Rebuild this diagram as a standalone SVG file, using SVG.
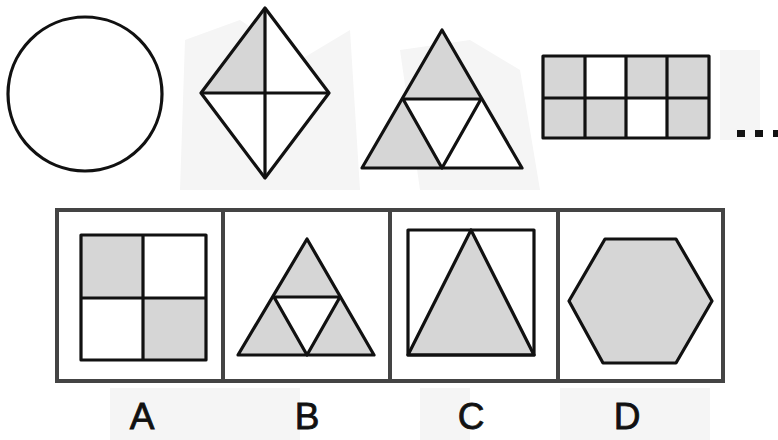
<svg xmlns="http://www.w3.org/2000/svg" width="778" height="440" viewBox="0 0 778 440">
<style>
.s{stroke:#111;stroke-width:3.2;stroke-linejoin:round;fill:none}
.g{fill:#d6d6d6}
.w{fill:#fff}
.box{stroke:#444;stroke-width:4;fill:none}
.lbl{font-family:"Liberation Sans",Arial,sans-serif;font-size:37px;fill:#111;stroke:#111;stroke-width:0.8;text-anchor:middle}
</style>
<rect width="778" height="440" fill="#fff"/>
<g id="watermark" fill="#f5f5f5">
<polygon points="185,40 240,20 300,60 350,30 360,190 180,190"/>
<polygon points="400,50 470,40 520,70 540,190 420,190"/>
<rect x="720" y="50" width="40" height="90"/>
<rect x="110" y="388" width="190" height="52"/>
<rect x="420" y="388" width="50" height="52"/>
<rect x="560" y="388" width="150" height="52"/>
</g>
<g id="circle"><circle cx="85" cy="94" r="77" class="s" style="fill:#fff"/></g>
<g id="diamond">
<polygon points="265,8 329,93 265,178 201,93" class="w"/>
<polygon points="265,8 201,93 265,93" class="g"/>
<polygon points="265,8 329,93 265,178 201,93" class="s"/>
<line x1="201" y1="93" x2="329" y2="93" class="s"/>
<line x1="265" y1="8" x2="265" y2="178" class="s"/>
</g>
<g id="triangle">
<polygon points="442,30 522,168 362,168" class="w"/>
<polygon points="442,30 403,99 481,99" class="g"/>
<polygon points="403,99 364,168 442,168" class="g"/>
<polygon points="442,30 522,168 362,168" class="s"/>
<polyline points="403,99 481,99 442,168 403,99" class="s"/>
</g>
<g id="grid">
<rect x="543" y="56" width="166" height="82" class="g"/>
<rect x="585" y="56" width="41" height="42" class="w"/>
<rect x="626" y="98" width="41" height="40" class="w"/>
<rect x="543" y="56" width="166" height="82" class="s"/>
<line x1="543" y1="98" x2="709" y2="98" class="s"/>
<line x1="585" y1="56" x2="585" y2="138" class="s"/>
<line x1="626" y1="56" x2="626" y2="138" class="s"/>
<line x1="667" y1="56" x2="667" y2="138" class="s"/>
</g>
<g id="ellipsis" fill="#111">
<rect x="737" y="130" width="8" height="7"/>
<rect x="755" y="130" width="8" height="7"/>
<rect x="773" y="130" width="8" height="7"/>
</g>
<g id="options-frame">
<rect x="57" y="210" width="666" height="171" class="box"/>
<line x1="223" y1="210" x2="223" y2="381" class="box"/>
<line x1="390" y1="210" x2="390" y2="381" class="box"/>
<line x1="558" y1="210" x2="558" y2="381" class="box"/>
</g>
<g id="optA">
<rect x="81" y="235" width="62" height="63" class="g"/>
<rect x="143" y="298" width="63" height="62" class="g"/>
<rect x="81" y="235" width="125" height="125" class="s"/>
<line x1="143" y1="235" x2="143" y2="360" class="s"/>
<line x1="81" y1="298" x2="206" y2="298" class="s"/>
</g>
<g id="optB">
<polygon points="307,239 374,355 238,355" class="g"/>
<polygon points="274,297 340,297 307,355" class="w"/>
<polygon points="307,239 374,355 238,355" class="s"/>
<polyline points="274,297 340,297 307,355 274,297" class="s"/>
</g>
<g id="optC">
<polygon points="471,230 534,355 408,355" class="g"/>
<rect x="408" y="230" width="126" height="125" class="s"/>
<polygon points="471,230 534,355 408,355" class="s"/>
</g>
<g id="optD">
<polygon points="605,239 676,239 712,301 676,363 603,363 569,301" class="g"/>
<polygon points="605,239 676,239 712,301 676,363 603,363 569,301" class="s"/>
</g>
<g id="labels">
<text x="142" y="429" class="lbl">A</text>
<text x="307" y="429" class="lbl">B</text>
<text x="471" y="429" class="lbl">C</text>
<text x="627" y="429" class="lbl">D</text>
</g>
</svg>
